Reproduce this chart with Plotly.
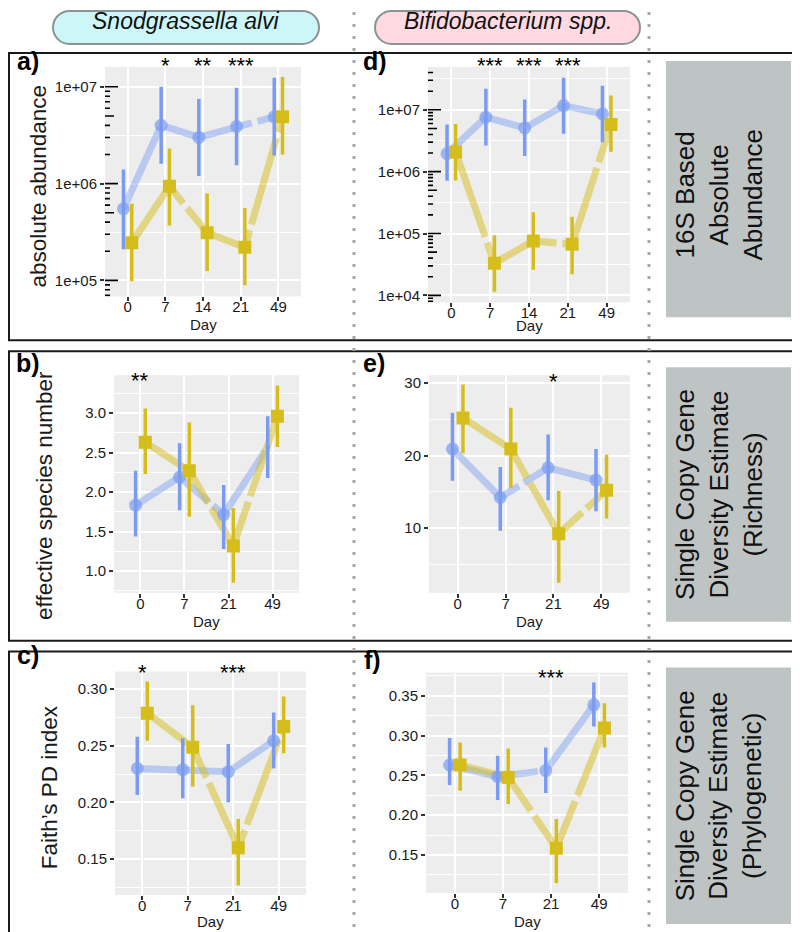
import plotly.graph_objects as go
import numpy as np

W, H = 800, 932

# ---------------- data ----------------
days_long = ["0", "7", "14", "21", "49"]
days_short = ["0", "7", "21", "49"]

# a) Snodgrassella alvi, 16S absolute abundance
a_blue = [5.5e5, 4.0e6, 3.0e6, 3.9e6, 4.9e6]
a_blue_lo = [2.1e5, 1.6e6, 1.2e6, 1.55e6, 1.95e6]
a_blue_hi = [1.4e6, 1.0e7, 7.5e6, 9.8e6, 1.24e7]
a_yel = [2.45e5, 9.4e5, 3.1e5, 2.2e5, 4.9e6]
a_yel_lo = [9.8e4, 3.7e5, 1.25e5, 8.9e4, 2.0e6]
a_yel_hi = [6.2e5, 2.3e6, 7.9e5, 5.6e5, 1.26e7]
a_stars = ["", "*", "**", "***", ""]

# d) Bifidobacterium spp., 16S absolute abundance
d_blue = [1.95e6, 7.6e6, 5.1e6, 1.17e7, 8.6e6]
d_blue_lo = [7.1e5, 2.65e6, 1.8e6, 4.1e6, 3.0e6]
d_blue_hi = [5.8e6, 2.2e7, 1.47e7, 3.3e7, 2.46e7]
d_yel = [2.08e6, 3.3e4, 7.6e4, 6.7e4, 5.8e6]
d_yel_lo = [7.2e5, 1.15e4, 2.6e4, 2.2e4, 2.1e6]
d_yel_hi = [5.9e6, 9.4e4, 2.2e5, 1.86e5, 1.7e7]
d_stars = ["", "***", "***", "***", ""]

# b) Snodgrassella alvi, effective species number
b_blue = [1.835, 2.19, 1.716, 2.57]
b_blue_lo = [1.44, 1.77, 1.28, 2.18]
b_blue_hi = [2.27, 2.62, 2.09, 2.96]
b_yel = [2.63, 2.27, 1.32, 2.96]
b_yel_lo = [2.23, 1.69, 0.855, 2.57]
b_yel_hi = [3.06, 2.88, 1.80, 3.35]
b_stars = ["**", "", "", ""]

# e) Bifidobacterium spp., effective species number
e_blue = [20.9, 14.2, 18.3, 16.6]
e_blue_lo = [16.5, 9.6, 13.8, 12.3]
e_blue_hi = [25.9, 18.4, 22.9, 20.9]
e_yel = [25.2, 20.9, 9.2, 15.2]
e_yel_lo = [20.3, 15.5, 2.4, 11.3]
e_yel_hi = [29.8, 26.6, 15.1, 20.1]
e_stars = ["", "", "*", ""]

# c) Snodgrassella alvi, Faith's PD
c_blue = [0.230, 0.229, 0.227, 0.2545]
c_blue_lo = [0.2065, 0.2036, 0.200, 0.230]
c_blue_hi = [0.258, 0.2566, 0.2515, 0.2795]
c_yel = [0.2788, 0.2486, 0.1598, 0.2671]
c_yel_lo = [0.2545, 0.2139, 0.1266, 0.2433]
c_yel_hi = [0.3068, 0.2859, 0.1854, 0.2936]
c_stars = ["*", "", "***", ""]

# f) Bifidobacterium spp., Faith's PD
f_blue = [0.263, 0.2484, 0.256, 0.3387]
f_blue_lo = [0.2378, 0.219, 0.2278, 0.3115]
f_blue_hi = [0.2968, 0.2747, 0.2851, 0.3667]
f_yel = [0.263, 0.2475, 0.1584, 0.3094]
f_yel_lo = [0.2308, 0.214, 0.1145, 0.2851]
f_yel_hi = [0.2914, 0.2839, 0.1952, 0.3407]
f_stars = ["", "", "***", ""]

# ---------------- styles ----------------
FONT = "Liberation Sans, Arial, Helvetica, sans-serif"
BLUE = "#7B9BF2"
BLUE_LINE = "rgba(123,155,242,0.45)"
YEL = "#D5BE1C"
YEL_LINE = "rgba(213,190,28,0.5)"
PANEL_BG = "#ECEDEC"
DODGE = 0.11


def px(x):
    return x / W


def py(y):
    return 1 - y / H


panels = [
    dict(key="a", days=days_long, blue=a_blue, blo=a_blue_lo, bhi=a_blue_hi,
         yel=a_yel, ylo=a_yel_lo, yhi=a_yel_hi, stars=a_stars,
         box=(97, 293, 58, 288), log=True, rng=[4.835, 7.206],
         tickvals=[1e5, 1e6, 1e7], ticktext=["1e+05", "1e+06", "1e+07"],
         minor=[10 ** 5.5, 10 ** 6.5], star_y=63, xlab_y=316,
         letter=("a)", 20, 52), ytitle=("absolute abundance", 31, 178),
         bsize=[13, 13, 13, 13, 13]),
    dict(key="d", days=days_long, blue=d_blue, blo=d_blue_lo, bhi=d_blue_hi,
         yel=d_yel, ylo=d_yel_lo, yhi=d_yel_hi, stars=d_stars,
         box=(420, 622, 58, 294), log=True, rng=[3.887, 7.694],
         tickvals=[1e4, 1e5, 1e6, 1e7], ticktext=["1e+04", "1e+05", "1e+06", "1e+07"],
         minor=[10 ** 4.5, 10 ** 5.5, 10 ** 6.5, 10 ** 7.5], star_y=63, xlab_y=317,
         letter=("d)", 367, 52), ytitle=None,
         bsize=[13, 13, 13, 13, 13]),
    dict(key="b", days=days_short, blue=b_blue, blo=b_blue_lo, bhi=b_blue_hi,
         yel=b_yel, ylo=b_yel_lo, yhi=b_yel_hi, stars=b_stars,
         box=(106, 291, 367, 585), log=False, rng=[0.727, 3.48],
         tickvals=[1.0, 1.5, 2.0, 2.5, 3.0], ticktext=["1.0", "1.5", "2.0", "2.5", "3.0"],
         minor=[0.75, 1.25, 1.75, 2.25, 2.75, 3.25], star_y=378, xlab_y=614,
         letter=("b)", 20, 355), ytitle=("effective species number", 37, 488),
         bsize=[13, 13, 13, 5]),
    dict(key="e", days=days_short, blue=e_blue, blo=e_blue_lo, bhi=e_blue_hi,
         yel=e_yel, ylo=e_yel_lo, yhi=e_yel_hi, stars=e_stars,
         box=(421, 622, 367, 585), log=False, rng=[1.03, 31.1],
         tickvals=[10, 20, 30], ticktext=["10", "20", "30"],
         minor=[5, 15, 25], star_y=379, xlab_y=614,
         letter=("e)", 366, 355), ytitle=None,
         bsize=[13, 13, 13, 13]),
    dict(key="c", days=days_short, blue=c_blue, blo=c_blue_lo, bhi=c_blue_hi,
         yel=c_yel, ylo=c_yel_lo, yhi=c_yel_hi, stars=c_stars,
         box=(107, 298, 664, 888), log=False, rng=[0.118, 0.3156],
         tickvals=[0.15, 0.20, 0.25, 0.30], ticktext=["0.15", "0.20", "0.25", "0.30"],
         minor=[0.125, 0.175, 0.225, 0.275], star_y=671, xlab_y=914,
         letter=("c)", 20, 647), ytitle=("Faith\u2019s PD index", 41, 780),
         bsize=[13, 13, 13, 13]),
    dict(key="f", days=days_short, blue=f_blue, blo=f_blue_lo, bhi=f_blue_hi,
         yel=f_yel, ylo=f_yel_lo, yhi=f_yel_hi, stars=f_stars,
         box=(418, 620, 665, 886), log=False, rng=[0.102, 0.3792],
         tickvals=[0.15, 0.20, 0.25, 0.30, 0.35],
         ticktext=["0.15", "0.20", "0.25", "0.30", "0.35"],
         minor=[0.125, 0.175, 0.225, 0.275, 0.325, 0.375], star_y=676, xlab_y=914,
         letter=("f)", 364, 652), ytitle=None,
         bsize=[13, 13, 13, 13]),
]

fig = go.Figure()
layout = dict(
    width=W, height=H, margin=dict(l=0, r=0, t=0, b=0),
    paper_bgcolor="white", plot_bgcolor=PANEL_BG, showlegend=False,
    font=dict(family=FONT, color="#1a1a1a"),
)
shapes = []
annotations = []

for i, p in enumerate(panels, start=1):
    xa = "x" if i == 1 else f"x{i}"
    ya = "y" if i == 1 else f"y{i}"
    xkey = "xaxis" if i == 1 else f"xaxis{i}"
    ykey = "yaxis" if i == 1 else f"yaxis{i}"
    x0, x1, y0, y1 = p["box"]
    n = len(p["days"])
    cats = np.arange(1, n + 1)
    xb = cats - DODGE
    xy = cats + DODGE

    blue = np.array(p["blue"]); yel = np.array(p["yel"])
    fig.add_trace(go.Scatter(x=xb, y=blue, mode="lines", xaxis=xa, yaxis=ya,
                             line=dict(color=BLUE_LINE, width=7, dash="90px,6px"),
                             hoverinfo="skip"))
    fig.add_trace(go.Scatter(x=xy, y=yel, mode="lines", xaxis=xa, yaxis=ya,
                             line=dict(color=YEL_LINE, width=7, dash="90px,6px"),
                             hoverinfo="skip"))
    fig.add_trace(go.Scatter(
        x=xb, y=blue, mode="markers", xaxis=xa, yaxis=ya,
        marker=dict(symbol="circle", size=p["bsize"], color=BLUE, line=dict(width=0)),
        error_y=dict(type="data", symmetric=False,
                     array=np.array(p["bhi"]) - blue, arrayminus=blue - np.array(p["blo"]),
                     color=BLUE, thickness=3.5, width=0)))
    fig.add_trace(go.Scatter(
        x=xy, y=yel, mode="markers", xaxis=xa, yaxis=ya,
        marker=dict(symbol="square", size=13, color=YEL, line=dict(width=0)),
        error_y=dict(type="data", symmetric=False,
                     array=np.array(p["yhi"]) - yel, arrayminus=yel - np.array(p["ylo"]),
                     color=YEL, thickness=3.5, width=0)))

    layout[xkey] = dict(
        domain=[px(x0), px(x1)], anchor=ya, range=[0.4, n + 0.6],
        tickmode="array", tickvals=list(cats), ticktext=p["days"],
        showgrid=True, gridcolor="white", gridwidth=1.6, zeroline=False,
        showline=False, ticks="outside", ticklen=4, tickwidth=1.5, tickcolor="#333",
        ticklabelstandoff=-7,
        tickfont=dict(size=15, color="#1a1a1a"), fixedrange=True)
    ycfg = dict(
        domain=[py(y1), py(y0)], anchor=xa, range=p["rng"],
        tickmode="array", tickvals=p["tickvals"], ticktext=p["ticktext"],
        showgrid=True, gridcolor="white", gridwidth=1.6, zeroline=False,
        showline=False, ticks="outside", ticklen=4, tickwidth=1.5, tickcolor="#333",
        tickfont=dict(size=15, color="#1a1a1a"), fixedrange=True,
        minor=dict(tickmode="array", tickvals=p["minor"], showgrid=True,
                   gridcolor="white", gridwidth=0.8, ticks=""))
    if p["log"]:
        ycfg["type"] = "log"
    layout[ykey] = ycfg

    # log ticks (annotation_logticks style)
    if p["log"]:
        pw = x1 - x0
        lo, hi = p["rng"]
        for k in range(int(np.floor(lo)), int(np.ceil(hi)) + 1):
            for m in range(1, 10):
                v = m * 10.0 ** k
                lv = np.log10(v)
                if lv < lo or lv > hi:
                    continue
                L = 13 if m == 1 else (9 if m == 5 else 5)
                shapes.append(dict(type="line", xref=f"{xa} domain", yref=ya,
                                   x0=0, x1=L / pw, y0=v, y1=v,
                                   line=dict(color="black", width=1.6), layer="above"))

    # significance stars
    for j, s in enumerate(p["stars"]):
        if s:
            annotations.append(dict(x=float(cats[j]), y=py(p["star_y"] - 6), xref=xa, yref="paper",
                                    text=s, showarrow=False, xanchor="center", yanchor="middle",
                                    font=dict(size=22, color="black")))
    # x title
    annotations.append(dict(x=px((x0 + x1) / 2), y=py(p["xlab_y"]), xref="paper", yref="paper",
                            text="Day", showarrow=False, xanchor="center", yanchor="middle",
                            font=dict(size=15, color="#1a1a1a")))
    # panel letter
    lt, lx, ly = p["letter"]
    annotations.append(dict(x=px(lx), y=py(ly), xref="paper", yref="paper",
                            text=f"<b>{lt}</b>", showarrow=False, xanchor="center",
                            yanchor="middle", font=dict(size=25, color="black")))
    if p["ytitle"]:
        t, tx, ty = p["ytitle"]
        annotations.append(dict(x=px(tx), y=py(ty), xref="paper", yref="paper", text=t,
                                textangle=-90, showarrow=False, xanchor="center",
                                yanchor="middle", font=dict(size=22.5, color="#1a1a1a")))

# ---------------- frames, boxes, headers ----------------
rows = [(44, 332), (343, 633), (644, 931)]
gray = [(52, 309), (359, 614), (660, 917)]
gray_text_y = [186, 487, 789]
row_labels = ["16S Based<br>Absolute<br>Abundance",
              "Single Copy Gene<br>Diversity Estimate<br>(Richness)",
              "Single Copy Gene<br>Diversity Estimate<br>(Phylogenetic)"]

for (t, b) in rows:
    shapes.append(dict(type="rect", xref="paper", yref="paper",
                       x0=px(1), x1=px(798), y0=py(b), y1=py(t),
                       line=dict(color="#1a1a1a", width=2), fillcolor="rgba(0,0,0,0)",
                       layer="above"))
for (t, b), ty, lab in zip(gray, gray_text_y, row_labels):
    shapes.append(dict(type="rect", xref="paper", yref="paper",
                       x0=px(658), x1=px(783), y0=py(b), y1=py(t),
                       line=dict(width=0), fillcolor="#BEC4C3", layer="below"))
    annotations.append(dict(x=px(711), y=py(ty), xref="paper", yref="paper",
                            text=lab, textangle=-90, showarrow=False,
                            xanchor="center", yanchor="middle",
                            font=dict(size=26, color="#111")))

# dotted separators
for xv in (346, 641):
    shapes.append(dict(type="line", xref="paper", yref="paper",
                       x0=px(xv), x1=px(xv), y0=0, y1=1,
                       line=dict(color="#A6A6A6", width=3, dash="3px,9px"), layer="above"))


def pill_path(x0, x1, y0, y1):
    r = (y1 - y0) / 2
    ym = (y0 + y1) / 2
    k = 0.5523 * r
    pts = [
        ("M", [(x0 + r, y0)]),
        ("L", [(x1 - r, y0)]),
        ("C", [(x1 - r + k, y0), (x1, ym - k), (x1, ym)]),
        ("C", [(x1, ym + k), (x1 - r + k, y1), (x1 - r, y1)]),
        ("L", [(x0 + r, y1)]),
        ("C", [(x0 + r - k, y1), (x0, ym + k), (x0, ym)]),
        ("C", [(x0, ym - k), (x0 + r - k, y0), (x0 + r, y0)]),
    ]
    s = ""
    for cmd, ps in pts:
        s += cmd + " ".join(f"{px(a):.5f},{py(b):.5f}" for a, b in ps) + " "
    return s + "Z"


pills = [("Snodgrassella alvi", 45, 311, "#CDF6F8"),
         ("Bifidobacterium spp.", 367, 632, "#FFDAE2")]
for text, a, b, col in pills:
    shapes.append(dict(type="path", xref="paper", yref="paper", path=pill_path(a, b, 2, 35),
                       fillcolor=col, line=dict(color="#8C9393", width=2), layer="above"))
    annotations.append(dict(x=px((a + b) / 2), y=py(12), xref="paper", yref="paper",
                            text=f"<i>{text}</i>", showarrow=False, xanchor="center",
                            yanchor="middle", font=dict(size=23, color="#111")))

layout["shapes"] = shapes
layout["annotations"] = annotations
fig.update_layout(**layout)
fig.write_html("out.html")
